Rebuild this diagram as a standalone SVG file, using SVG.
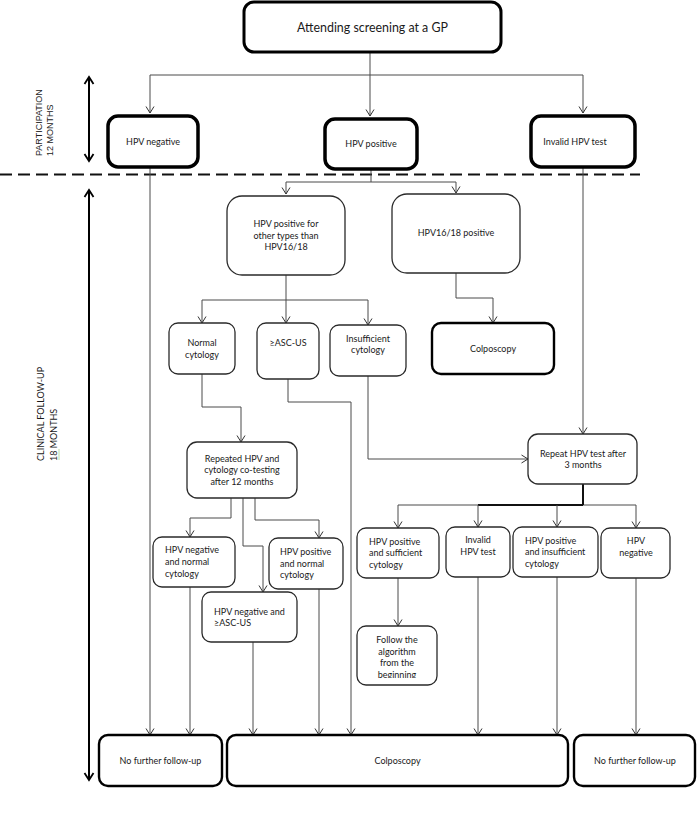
<svg xmlns="http://www.w3.org/2000/svg" width="697" height="833" viewBox="0 0 697 833">
<style>
.bx{fill:#fff;stroke:#2a2a2a;stroke-width:1.3}
.bk{fill:#fff;stroke:#000;stroke-width:3.5}
.bm{fill:#fff;stroke:#000;stroke-width:2.4}
.t{font-family:Lato,"Liberation Sans",sans-serif;font-size:9px;fill:#1a1a1a}
.c{text-anchor:middle}
.ln{fill:none;stroke:#4a4a4a;stroke-width:1}
.lt{fill:none;stroke:#111;stroke-width:2}
.ax{fill:none;stroke:#000;stroke-width:2}
.side{font-family:"Liberation Sans",Arial,sans-serif;font-size:9px;fill:#222}
</style>
<defs>
<marker id="ar" markerUnits="userSpaceOnUse" markerWidth="12" markerHeight="12" refX="0" refY="0" viewBox="-8 -6 10 12" orient="auto" overflow="visible">
<path d="M-6.5,-4 L0,0 L-6.5,4" fill="none" stroke="#333" stroke-width="1"/>
</marker>
<marker id="ab" markerUnits="userSpaceOnUse" markerWidth="12" markerHeight="12" refX="0" refY="0" viewBox="-8 -6 10 12" orient="auto-start-reverse" overflow="visible">
<path d="M-7,-4.5 L0,0 L-7,4.5" fill="none" stroke="#000" stroke-width="1.8"/>
</marker>
<clipPath id="clipF"><rect x="357" y="626" width="80" height="52"/></clipPath>
</defs>

<g id="axis">
<path d="M0,174.5 H640" fill="none" stroke="#111" stroke-width="2.2" stroke-dasharray="12 6"/>
<path class="ax" d="M89,77 V161" marker-start="url(#ab)" marker-end="url(#ab)"/>
<path class="ax" d="M89,190 V780" marker-start="url(#ab)" marker-end="url(#ab)"/>
<text class="side" transform="translate(42,156) rotate(-90)">PARTICIPATION</text>
<text class="side" transform="translate(53,156) rotate(-90)">12 MONTHS</text>
<text class="t" transform="translate(44,461) rotate(-90)">CLINICAL FOLLOW-UP</text>
<text class="t" transform="translate(57,461) rotate(-90)">18 MONTHS</text>
<path d="M59,449 V460" stroke="#b8e0a8" stroke-width="1" fill="none"/>
</g>

<g id="connectors">
<path class="ln" d="M370,52 V116" marker-end="url(#ar)"/>
<path class="ln" d="M150,75 H583"/>
<path class="ln" d="M150,75 V113" marker-end="url(#ar)"/>
<path class="ln" d="M583,75 V113" marker-end="url(#ar)"/>
<path class="ln" d="M371,169 V182 M286,182 H456"/>
<path class="ln" d="M286,182 V194" marker-end="url(#ar)"/>
<path class="ln" d="M456,182 V193" marker-end="url(#ar)"/>
<path class="ln" d="M286,275 V300 M202,300 H368"/>
<path class="ln" d="M202,300 V323" marker-end="url(#ar)"/>
<path class="ln" d="M286,300 V323" marker-end="url(#ar)"/>
<path class="ln" d="M368,300 V325" marker-end="url(#ar)"/>
<path class="ln" d="M456,273 V298 H493 V323" marker-end="url(#ar)"/>
<path class="ln" d="M583,167 V434" marker-end="url(#ar)"/>
<path class="ln" d="M150,167 V735" marker-end="url(#ar)"/>
<path class="ln" d="M202,374 V407 H241 V442" marker-end="url(#ar)"/>
<path class="ln" d="M288,379 V402 H351 V735" marker-end="url(#ar)"/>
<path class="ln" d="M368,376 V459 H528" marker-end="url(#ar)"/>
<path class="ln" d="M231,498 V518 H190 V537" marker-end="url(#ar)"/>
<path class="ln" d="M243,498 V546 H263 V592" marker-end="url(#ar)"/>
<path class="ln" d="M255,498 V520 H319 V538" marker-end="url(#ar)"/>
<path class="ln" d="M190,587 V735" marker-end="url(#ar)"/>
<path class="ln" d="M253,642 V735" marker-end="url(#ar)"/>
<path class="ln" d="M319,589 V735" marker-end="url(#ar)"/>
<path class="ln" d="M398,505 H636"/>
<path class="lt" d="M583,484 V505 M478,505 H583"/>
<path class="ln" d="M398,505 V528" marker-end="url(#ar)"/>
<path class="ln" d="M478,505 V527" marker-end="url(#ar)"/>
<path class="ln" d="M557,505 V527" marker-end="url(#ar)"/>
<path class="ln" d="M636,505 V528" marker-end="url(#ar)"/>
<path class="ln" d="M398,578 V626" marker-end="url(#ar)"/>
<path class="ln" d="M478,577 V735" marker-end="url(#ar)"/>
<path class="ln" d="M557,577 V735" marker-end="url(#ar)"/>
<path class="ln" d="M636,578 V735" marker-end="url(#ar)"/>
</g>

<g id="n-attend">
<rect class="bk" style="stroke-width:3" x="244" y="2" width="257" height="50" rx="10"/>
<text class="t c" style="font-size:12.4px" x="372.5" y="31.5">Attending screening at a GP</text>
</g>
<g id="n-hpvneg">
<rect class="bk" x="108" y="116" width="90" height="51" rx="10"/>
<text class="t c" x="153" y="145">HPV negative</text>
</g>
<g id="n-hpvpos">
<rect class="bk" x="325" y="119" width="92" height="50" rx="10"/>
<text class="t c" x="371" y="147">HPV positive</text>
</g>
<g id="n-invalid">
<rect class="bk" x="531" y="116" width="104" height="51" rx="10"/>
<text class="t c" x="575" y="145">Invalid HPV test</text>
</g>
<g id="n-other">
<rect class="bx" x="227" y="196" width="118" height="79" rx="15"/>
<text class="t c" x="286" y="227">HPV positive for</text>
<text class="t c" x="286" y="239">other types than</text>
<text class="t c" x="286" y="250">HPV16/18</text>
</g>
<g id="n-1618">
<rect class="bx" x="392" y="194" width="128" height="79" rx="15"/>
<text class="t c" x="456" y="236">HPV16/18 positive</text>
</g>
<g id="n-normal">
<rect class="bx" x="169" y="323" width="66" height="51" rx="9"/>
<text class="t c" x="202" y="346">Normal</text>
<text class="t c" x="202" y="358">cytology</text>
</g>
<g id="n-ascus">
<rect class="bx" x="257" y="323" width="62" height="56" rx="9"/>
<text class="t c" x="288" y="346">≥ASC-US</text>
</g>
<g id="n-insuff">
<rect class="bx" x="330" y="325" width="76" height="51" rx="9"/>
<text class="t c" x="368" y="342">Insufficient</text>
<text class="t c" x="368" y="353">cytology</text>
</g>
<g id="n-colpo1">
<rect class="bm" x="432" y="323" width="122" height="51" rx="9"/>
<text class="t c" x="493" y="352">Colposcopy</text>
</g>
<g id="n-repeated">
<rect class="bx" x="187" y="442" width="110" height="56" rx="10"/>
<text class="t c" x="242" y="462">Repeated HPV and</text>
<text class="t c" x="242" y="473">cytology co-testing</text>
<text class="t c" x="242" y="485">after 12 months</text>
</g>
<g id="n-repeat3">
<rect class="bx" x="528" y="434" width="109" height="50" rx="10"/>
<text class="t c" x="583" y="457">Repeat HPV test after</text>
<text class="t c" x="583" y="468">3 months</text>
</g>
<g id="n-negnorm">
<rect class="bx" x="153" y="537" width="82" height="50" rx="9"/>
<text class="t" x="165" y="553">HPV negative</text>
<text class="t" x="165" y="565">and normal</text>
<text class="t" x="165" y="577">cytology</text>
</g>
<g id="n-posnorm">
<rect class="bx" x="269" y="538" width="74" height="51" rx="9"/>
<text class="t" x="280" y="555">HPV positive</text>
<text class="t" x="280" y="567">and normal</text>
<text class="t" x="280" y="578">cytology</text>
</g>
<g id="n-negasc">
<rect class="bx" x="202" y="592" width="95" height="50" rx="9"/>
<text class="t" x="214" y="615">HPV negative and</text>
<text class="t" x="214" y="626">≥ASC-US</text>
</g>
<g id="n-possuff">
<rect class="bx" x="357" y="528" width="82" height="50" rx="9"/>
<text class="t" x="369" y="545">HPV positive</text>
<text class="t" x="369" y="556">and sufficient</text>
<text class="t" x="369" y="568">cytology</text>
</g>
<g id="n-invalid2">
<rect class="bx" x="446" y="527" width="64" height="50" rx="9"/>
<text class="t c" x="478" y="543">Invalid</text>
<text class="t c" x="478" y="555">HPV test</text>
</g>
<g id="n-posinsuff">
<rect class="bx" x="513" y="527" width="85" height="50" rx="9"/>
<text class="t" x="525" y="544">HPV positive</text>
<text class="t" x="525" y="555">and insufficient</text>
<text class="t" x="525" y="567">cytology</text>
</g>
<g id="n-neg2">
<rect class="bx" x="601" y="528" width="69" height="50" rx="9"/>
<text class="t c" x="636" y="544">HPV</text>
<text class="t c" x="636" y="556">negative</text>
</g>
<g id="n-follow">
<rect class="bx" x="357" y="626" width="80" height="59" rx="9"/>
<g clip-path="url(#clipF)">
<text class="t c" x="397" y="643">Follow the</text>
<text class="t c" x="397" y="655">algorithm</text>
<text class="t c" x="397" y="666">from the</text>
<text class="t c" x="397" y="678">beginning</text>
</g>
</g>
<g id="n-nofu1">
<rect class="bm" x="99" y="735" width="123" height="51" rx="9"/>
<text class="t c" x="160.5" y="764">No further follow-up</text>
</g>
<g id="n-colpo2">
<rect class="bm" x="227" y="735" width="341" height="51" rx="9"/>
<text class="t c" x="397.5" y="764">Colposcopy</text>
</g>
<g id="n-nofu2">
<rect class="bm" x="574" y="735" width="121" height="51" rx="9"/>
<text class="t c" x="635" y="764">No further follow-up</text>
</g>
</svg>
